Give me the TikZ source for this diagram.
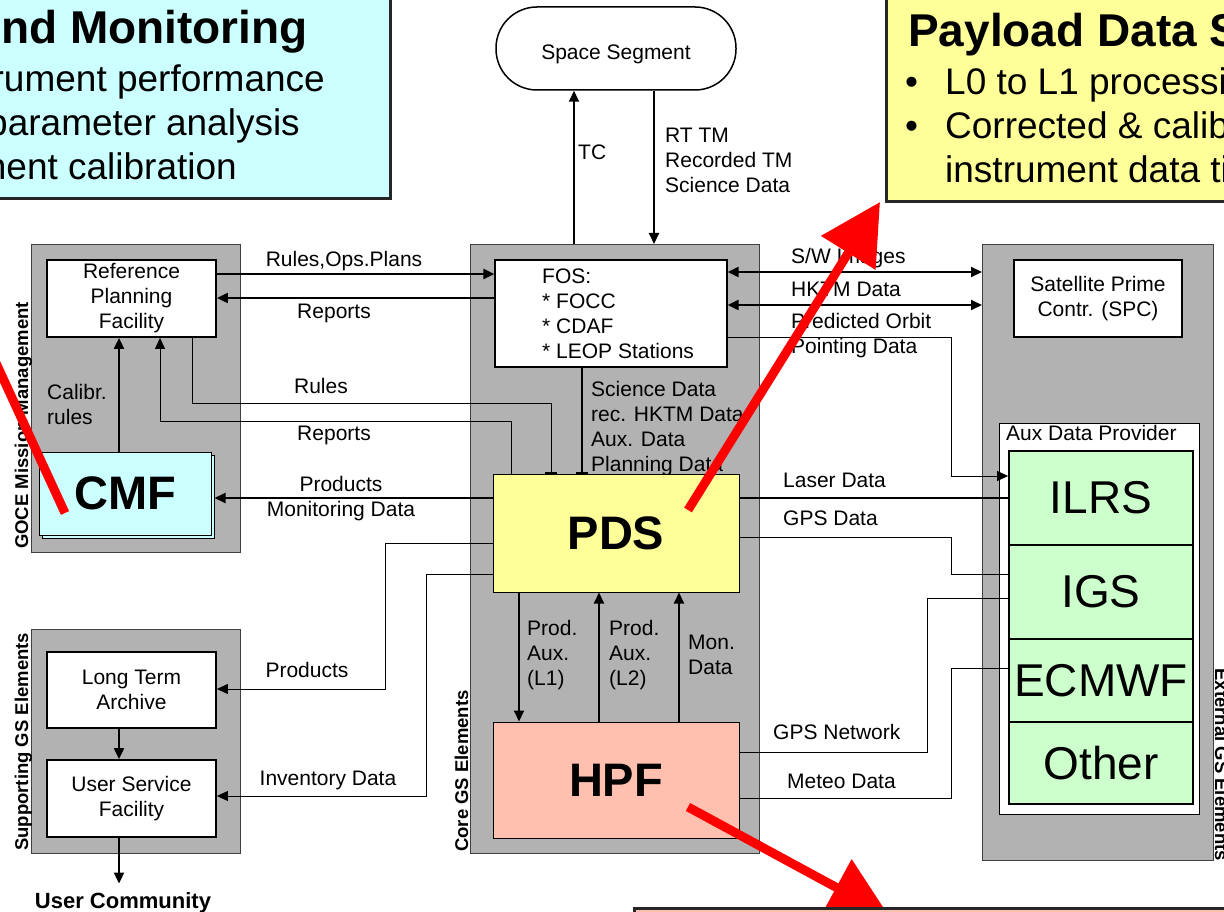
\documentclass[tikz,border=0pt]{standalone}
\usepackage{fontspec}
\setmainfont{Liberation Sans}
\usetikzlibrary{arrows.meta, positioning, shadows}

\definecolor{gsgray}{HTML}{B2B2B2}
\definecolor{cmfblue}{HTML}{CCFFFF}
\definecolor{pdsyellow}{HTML}{FFFF99}
\definecolor{hpfpink}{HTML}{FFC0B0}
\definecolor{auxgreen}{HTML}{CCFFCC}

\newcommand{\fs}[2]{\fontsize{#1}{#2}\selectfont}

\begin{document}
\begin{tikzpicture}[x=1pt, y=-1pt, >={Triangle[length=11pt, width=10pt]}, font=\fs{21}{25}]
    \tikzstyle{grp}=[draw=black!75, fill=gsgray, line width=0.8pt, inner sep=0pt, anchor=north west]
    \tikzstyle{blk}=[draw, line width=1.8pt, fill=white, inner sep=0pt, align=center]
    \tikzstyle{aux}=[draw, line width=1.8pt, fill=auxgreen, inner sep=0pt, minimum width=184pt, font=\fs{46}{50}]
    \tikzstyle{lbl}=[inner sep=0pt, anchor=base west, align=left]
    \tikzstyle{side}=[inner sep=0pt, font=\bfseries\fs{18.5}{22}]
    \tikzstyle{con}=[line width=2pt]
    \tikzstyle{thn}=[line width=1pt]
    \tikzstyle{big}=[draw=red, line width=9pt, -{Triangle[length=60pt, width=62pt]}]
    \tikzstyle{info}=[draw=black!85, line width=3pt, inner sep=0pt]

    \useasboundingbox (0,0) rectangle (1224,912);
    \clip (0,0) rectangle (1224,912);

    \node[grp, minimum width=209pt, minimum height=308pt] (goce) at (31,244) {};
    \node[grp, minimum width=209pt, minimum height=224pt] (supp) at (31,629) {};
    \node[grp, minimum width=289pt, minimum height=609pt] (core) at (470,244) {};
    \node[grp, minimum width=231pt, minimum height=616pt] (ext) at (982,244) {};

    \node[side, rotate=90, anchor=base west] (tgoce) at (28,549) {GOCE Mission Management};
    \node[side, rotate=90, anchor=base west] (tsupp) at (28,851) {Supporting GS Elements};
    \node[side, rotate=90, anchor=base west] (tcore) at (468,852) {Core GS Elements};
    \node[side, rotate=-90, anchor=base east] (text) at (1215,861) {External GS Elements};

    \node[lbl] (tsci) at (591,471) {Science Data\\rec. HKTM Data\\Aux. Data\\Planning Data};

    \node[blk, minimum width=169pt, minimum height=77pt] (rpf) at (131.5,298.5) {Reference\\Planning\\Facility};
    \node[blk, fill=cmfblue, line width=1pt, minimum width=172pt, minimum height=83pt,
          copy shadow={shadow xshift=3pt, shadow yshift=-3pt}, font=\bfseries\fs{47}{50}] (cmf) at (125,493.5) {CMF};
    \node[blk, minimum width=169pt, minimum height=76pt] (lta) at (131.5,690) {Long Term\\Archive};
    \node[blk, minimum width=169pt, minimum height=77pt] (usf) at (131.5,798.5) {User Service\\Facility};
    \node[inner sep=0pt, font=\bfseries\fs{22}{26}] (uc) at (123,903) {User Community};

    \node[blk, rounded corners=41pt, line width=1.5pt, minimum width=240pt, minimum height=83pt,
          text height=23pt, text depth=0pt] (ss) at (616,48.5) {Space Segment};
    \node[blk, line width=1.2pt, minimum width=232pt, minimum height=107pt] (fos) at (611,313.5) {};
    \node[lbl] (tfos) at (542,358) {FOS:\\* FOCC\\* CDAF\\* LEOP Stations};
    \node[blk, fill=pdsyellow, line width=1pt, minimum width=246pt, minimum height=118pt, font=\bfseries\fs{47}{50}] (pds) at (616,533) {PDS};
    \node[blk, fill=hpfpink, line width=1pt, minimum width=246pt, minimum height=116pt, font=\bfseries\fs{47}{50}] (hpf) at (616,780) {HPF};

    \node[blk, minimum width=168pt, minimum height=77pt] (spc) at (1098,298.5) {Satellite Prime\\Contr. (SPC)};
    \node[blk, line width=1pt, minimum width=200pt, minimum height=391pt] (adp) at (1099,618.5) {};
    \node[lbl] (tadp) at (1006,440) {Aux Data Provider};
    \node[aux, minimum height=94pt] (ilrs) at (1101,498) {ILRS};
    \node[aux, minimum height=94pt] (igs) at (1101,592) {IGS};
    \node[aux, minimum height=83pt] (ecmwf) at (1101,680.5) {ECMWF};
    \node[aux, minimum height=82pt] (other) at (1101,763) {Other};

    \draw[con, ->] (core.north -| 574,0) -- (ss.south -| 574,0);
    \draw[con, ->] (ss.south -| 654,0) -- (core.north -| 654,0);
    \node[lbl] (ttc) at (578,160) {TC};
    \node[lbl] (trt) at (665,193) {RT TM\\Recorded TM\\Science Data};

    \draw[con, ->] (rpf.east |- 0,274) -- (fos.west |- 0,274);
    \draw[con, ->] (fos.west |- 0,298) -- (rpf.east |- 0,298);
    \node[inner sep=0pt, anchor=base] (tplan) at (344,267) {Rules,Ops.Plans};
    \node[inner sep=0pt, anchor=base] (trep1) at (334,318) {Reports};

    \draw[thn, -{Bar[width=12pt, line width=2pt]}] (rpf.south -| 192,0) |- (551,403) -- (pds.north -| 551,0);
    \draw[thn, ->] (pds.north -| 511,0) |- (160,421) -- (rpf.south -| 160,0);
    \node[inner sep=0pt, anchor=base] (trules) at (321,393) {Rules};
    \node[inner sep=0pt, anchor=base] (trep2) at (334,440) {Reports};

    \draw[con, ->] (cmf.north -| 119,0) -- (rpf.south -| 119,0);
    \node[lbl] (tcal) at (47,424) {Calibr.\\rules};

    \draw[con, ->] (pds.west |- 0,498) -- ([xshift=3pt]cmf.east |- 0,498);
    \node[inner sep=0pt, anchor=base, align=center] (tprod) at (341,516) {Products\\Monitoring Data};

    \draw[thn, ->] (pds.west |- 0,543) -| (385,689) -- (lta.east |- 0,689);
    \draw[thn, ->] (pds.west |- 0,574) -| (426,796) -- (usf.east |- 0,796);
    \node[inner sep=0pt, anchor=base] (tprod2) at (307,677) {Products};
    \node[inner sep=0pt, anchor=base] (tinv) at (328,785) {Inventory Data};

    \draw[con, ->] (lta.south -| 119,0) -- (usf.north -| 119,0);
    \draw[con, ->, shorten >=9pt] (usf.south -| 119,0) -- (uc.north -| 119,0);

    \draw[con, -{Bar[width=12pt]}] (fos.south -| 582,0) -- (pds.north -| 582,0);

    \draw[con, <->] (fos.east |- 0,272) -- (ext.west |- 0,272);
    \draw[con, <->] (fos.east |- 0,305) -- (ext.west |- 0,305);
    \draw[thn, ->] (fos.east |- 0,337) -| (951,476) -- (ilrs.west |- 0,476);
    \node[lbl] (tsw) at (791,264) {S/W Images};
    \node[lbl] (thk) at (791,297) {HKTM Data};
    \node[lbl] (tpred) at (791,353) {Predicted Orbit\\Pointing Data};

    \draw[con] (pds.east |- 0,498) -- (ilrs.west |- 0,498);
    \draw[thn] (pds.east |- 0,537) -| (951,574) -- (igs.west |- 0,574);
    \draw[thn] (hpf.east |- 0,752) -| (927,598) -- (igs.west |- 0,598);
    \draw[thn] (hpf.east |- 0,798) -| (951,668) -- (ecmwf.west |- 0,668);
    \node[lbl] (tlaser) at (783,487) {Laser Data};
    \node[lbl] (tgps) at (783,525) {GPS Data};
    \node[lbl] (tnet) at (773,739) {GPS Network};
    \node[lbl] (tmet) at (787,788) {Meteo Data};

    \draw[con, ->] (pds.south -| 519,0) -- (hpf.north -| 519,0);
    \draw[con, ->] (hpf.north -| 599,0) -- (pds.south -| 599,0);
    \draw[con, ->] (hpf.north -| 679,0) -- (pds.south -| 679,0);
    \node[lbl] (tl1) at (527,685) {Prod.\\Aux.\\(L1)};
    \node[lbl] (tl2) at (609,685) {Prod.\\Aux.\\(L2)};
    \node[lbl] (tmon) at (688,674) {Mon.\\Data};

    \coordinate (r1) at (65,513);
    \coordinate (r1e) at (-79,200);
    \coordinate (r2) at (688,510);
    \coordinate (r2e) at (880,202);
    \coordinate (r3) at (688,807);
    \coordinate (r3e) at (889,916);
    \draw[big] (r1) -- (r1e);
    \draw[big] (r2) -- (r2e);
    \draw[big] (r3) -- (r3e);

    \node[info, fill=cmfblue, anchor=south east, minimum width=420pt, minimum height=230pt] (cmfbox) at (392,200) {};
    \node[inner sep=0pt, anchor=base east, font=\bfseries\fs{46}{50}] (tcm0) at (308,44) {nd Monitoring};
    \node[inner sep=0pt, anchor=base east, font=\fs{37}{44}] (tcm1) at (325,92) {rument performance};
    \node[inner sep=0pt, anchor=base east, font=\fs{37}{44}] (tcm2) at (300,136) {parameter analysis};
    \node[inner sep=0pt, anchor=base east, font=\fs{37}{44}] (tcm3) at (237,180) {nent calibration};

    \node[info, fill=pdsyellow, anchor=south west, minimum width=360pt, minimum height=230pt] (pdsbox) at (885,203) {};
    \node[lbl, font=\bfseries\fs{46}{50}] (tpd0) at (908,47) {Payload Data S};
    \node[lbl, font=\fs{37}{44}] (tb1) at (905,95) {•};
    \node[lbl, font=\fs{37}{44}] (tpd1) at (945,95) {L0 to L1 processi};
    \node[lbl, font=\fs{37}{44}] (tb2) at (905,139) {•};
    \node[lbl, font=\fs{37}{44}] (tpd2) at (945,139) {Corrected \& calib};
    \node[lbl, font=\fs{37}{44}] (tpd3) at (945,183) {instrument data ti};

    \node[info, fill=hpfpink, anchor=north west, minimum width=620pt, minimum height=40pt] (hpfbox) at (633,907) {};
\end{tikzpicture}
\end{document}
